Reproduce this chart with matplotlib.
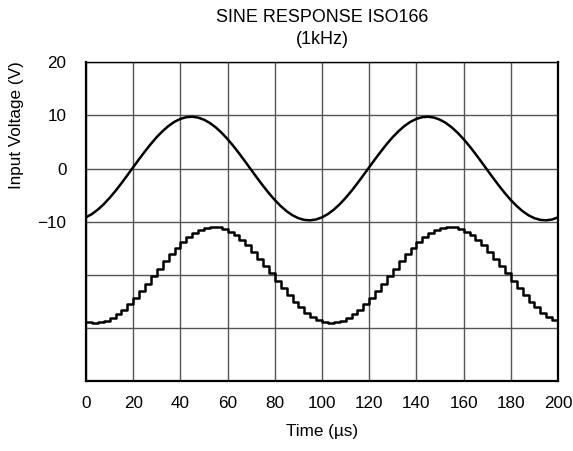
import matplotlib
matplotlib.use("Agg")
import matplotlib.pyplot as plt
import numpy as np

plt.rcParams['font.family'] = ['Liberation Sans', 'DejaVu Sans']

# time axis (µs), sampled every 2.5 µs
time_us = [i * 2.5 for i in range(81)]

# input sine (V)
input_v = [
    -9.19, -8.57, -7.74, -6.72, -5.53, -4.21, -2.78, -1.28, 0.25, 1.77,
    3.24, 4.64, 5.93, 7.06, 8.03, 8.80, 9.35, 9.67, 9.75, 9.59,
    9.19, 8.57, 7.74, 6.72, 5.53, 4.21, 2.78, 1.28, -0.25, -1.77,
    -3.24, -4.64, -5.93, -7.06, -8.03, -8.80, -9.35, -9.67, -9.75, -9.59,
    -9.19, -8.57, -7.74, -6.72, -5.53, -4.21, -2.78, -1.28, 0.25, 1.77,
    3.24, 4.64, 5.93, 7.06, 8.03, 8.80, 9.35, 9.67, 9.75, 9.59,
    9.19, 8.57, 7.74, 6.72, 5.53, 4.21, 2.78, 1.28, -0.25, -1.77,
    -3.24, -4.64, -5.93, -7.06, -8.03, -8.80, -9.35, -9.67, -9.75, -9.59,
    -9.19,
]

output_v = [
    -28.84, -29.00, -28.93, -28.64, -28.14, -27.44, -26.56, -25.52, -24.34, -23.05,
    -21.69, -20.28, -18.87, -17.49, -16.17, -14.94, -13.84, -12.89, -12.11, -11.53,
    -11.16, -11.00, -11.07, -11.36, -11.86, -12.56, -13.44, -14.48, -15.66, -16.95,
    -18.31, -19.72, -21.13, -22.51, -23.83, -25.06, -26.16, -27.11, -27.89, -28.47,
    -28.84, -29.00, -28.93, -28.64, -28.14, -27.44, -26.56, -25.52, -24.34, -23.05,
    -21.69, -20.28, -18.87, -17.49, -16.17, -14.94, -13.84, -12.89, -12.11, -11.53,
    -11.16, -11.00, -11.07, -11.36, -11.86, -12.56, -13.44, -14.48, -15.66, -16.95,
    -18.31, -19.72, -21.13, -22.51, -23.83, -25.06, -26.16, -27.11, -27.89, -28.47,
    -28.84,
]

x_ticks = [0, 20, 40, 60, 80, 100, 120, 140, 160, 180, 200]
x_tick_labels = ['0', '20', '40', '60', '80', '100', '120', '140', '160', '180', '200']
y_ticks = [-40, -30, -20, -10, 0, 10, 20]
y_tick_labels = ['', '', '', '\u221210', '0', '10', '20']

title_line1 = 'SINE RESPONSE ISO166'
title_line2 = '(1kHz)'
x_label = 'Time (\u00b5s)'
y_label = 'Input Voltage (V)'

fig = plt.figure(figsize=(5.73, 4.51), dpi=100)
ax = fig.add_axes([86 / 573, 1 - 381 / 451, (558 - 86) / 573, (381 - 62.3) / 451])

ax.plot(time_us, input_v, color='black', lw=1.8, solid_capstyle='round')
ax.plot(time_us, output_v, color='black', lw=1.8, drawstyle='steps-post')

ax.set_xlim(0, 200)
ax.set_ylim(-40, 20)
ax.set_xticks(x_ticks)
ax.set_xticklabels(x_tick_labels)
ax.set_yticks(y_ticks)
ax.set_yticklabels(y_tick_labels)
ax.tick_params(axis='both', length=0, labelsize=12.3, colors='black')
ax.tick_params(axis='x', pad=11)
ax.tick_params(axis='y', pad=14)

ax.grid(True, color='#555555', lw=1.0)
ax.set_axisbelow(True)

for side in ['left', 'bottom', 'right']:
    ax.spines[side].set_linewidth(1.6)
ax.spines['top'].set_linewidth(1.0)

ax.set_xlabel(x_label, fontsize=12.3, labelpad=9)

fig.text(17 / 573, 1 - 125 / 451, y_label, rotation=90, ha='center', va='center',
         fontsize=12.3)

fig.text(322 / 573, 1 - 17 / 451, title_line1, ha='center', va='center', fontsize=12.9)
fig.text(322 / 573, 1 - 40 / 451, title_line2, ha='center', va='center', fontsize=12.9)

fig.savefig('out.png', dpi=100)
